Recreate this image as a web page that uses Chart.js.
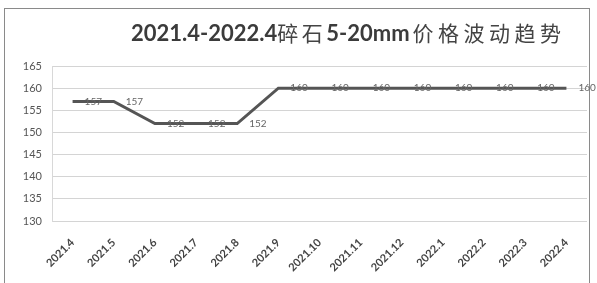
<!DOCTYPE html>
<html>
<head>
<meta charset="utf-8">
<script src="https://cdn.jsdelivr.net/npm/chart.js@4.4.1/dist/chart.umd.min.js"></script>
<style>
  html, body { margin: 0; padding: 0; background: #fff; }
  #wrap { position: relative; width: 597px; height: 283px; overflow: hidden; }
  #frame { position: absolute; left: 4px; top: 8px; width: 586px; height: 300px; border: 1px solid #8a8a8a; box-sizing: border-box; }
  #title { position: absolute; left: 131px; top: 17px; white-space: nowrap; color: #3b3b3b; font-family: Lato, sans-serif; font-weight: bold; font-size: 22px; }
  #title .cn { font-family: "Noto Sans CJK SC", sans-serif; font-weight: normal; font-size: 21px; letter-spacing: 3.5px; color: #444; }
  #title .cn2 { letter-spacing: 4.5px; margin-left: 3px; }
  #chart { position: absolute; left: 0; top: 0; }
</style>
</head>
<body>
<div id="wrap">
  <div id="frame"></div>
  <canvas id="chart" width="597" height="283"></canvas>
  <div id="title">2021.4-2022.4<span class="cn">碎石</span>5-20mm<span class="cn cn2">价格波动趋势</span></div>
</div>
<script>
// Data
const months = ['2021.4', '2021.5', '2021.6', '2021.7', '2021.8', '2021.9', '2021.10',
                '2021.11', '2021.12', '2022.1', '2022.2', '2022.3', '2022.4'];
const prices = [157, 157, 152, 152, 152, 160, 160, 160, 160, 160, 160, 160, 160];
const yTicks = [130, 135, 140, 145, 150, 155, 160, 165];

// Draw value labels just right of each point
const valueLabels = {
    id: 'valueLabels',
    afterDatasetsDraw(chart) {
        const ctx = chart.ctx;
        const meta = chart.getDatasetMeta(0);
        ctx.save();
        ctx.font = '10px Lato, sans-serif';
        ctx.fillStyle = '#666';
        ctx.textAlign = 'left';
        ctx.textBaseline = 'middle';
        meta.data.forEach(function(pt, i) {
            ctx.fillText(String(prices[i]), pt.x + 12, pt.y);
        });
        ctx.restore();
    }
};

const ctx = document.getElementById('chart').getContext('2d');
new Chart(ctx, {
    type: 'line',
    data: {
        labels: months,
        datasets: [{
            data: prices,
            borderColor: '#555',
            borderWidth: 3,
            pointRadius: 0,
            tension: 0,
            fill: false
        }]
    },
    options: {
        responsive: false,
        animation: false,
        layout: { padding: { left: 0, top: 66, right: 10, bottom: 0 } },
        plugins: {
            legend: { display: false },
            title: { display: false },
            tooltip: { enabled: false }
        },
        scales: {
            x: {
                offset: true,
                grid: { display: false, drawTicks: false },
                border: { display: false },
                ticks: {
                    autoSkip: false,
                    minRotation: 45,
                    maxRotation: 45,
                    padding: 15,
                    color: '#444',
                    font: { family: 'Lato, sans-serif', size: 11, weight: 'bold' }
                },
                afterFit(scale) { scale.height = 62; }
            },
            y: {
                min: yTicks[0],
                max: yTicks[yTicks.length - 1],
                afterBuildTicks(scale) { scale.ticks = yTicks.map(v => ({ value: v })); },
                grid: { color: '#d4d4d4', drawTicks: false },
                border: { display: true, color: '#d8d8d8' },
                ticks: {
                    padding: 10,
                    color: '#555',
                    font: { family: 'Lato, sans-serif', size: 11 }
                },
                afterFit(scale) { scale.width = 52; }
            }
        }
    },
    plugins: [valueLabels]
});
</script>
</body>
</html>
